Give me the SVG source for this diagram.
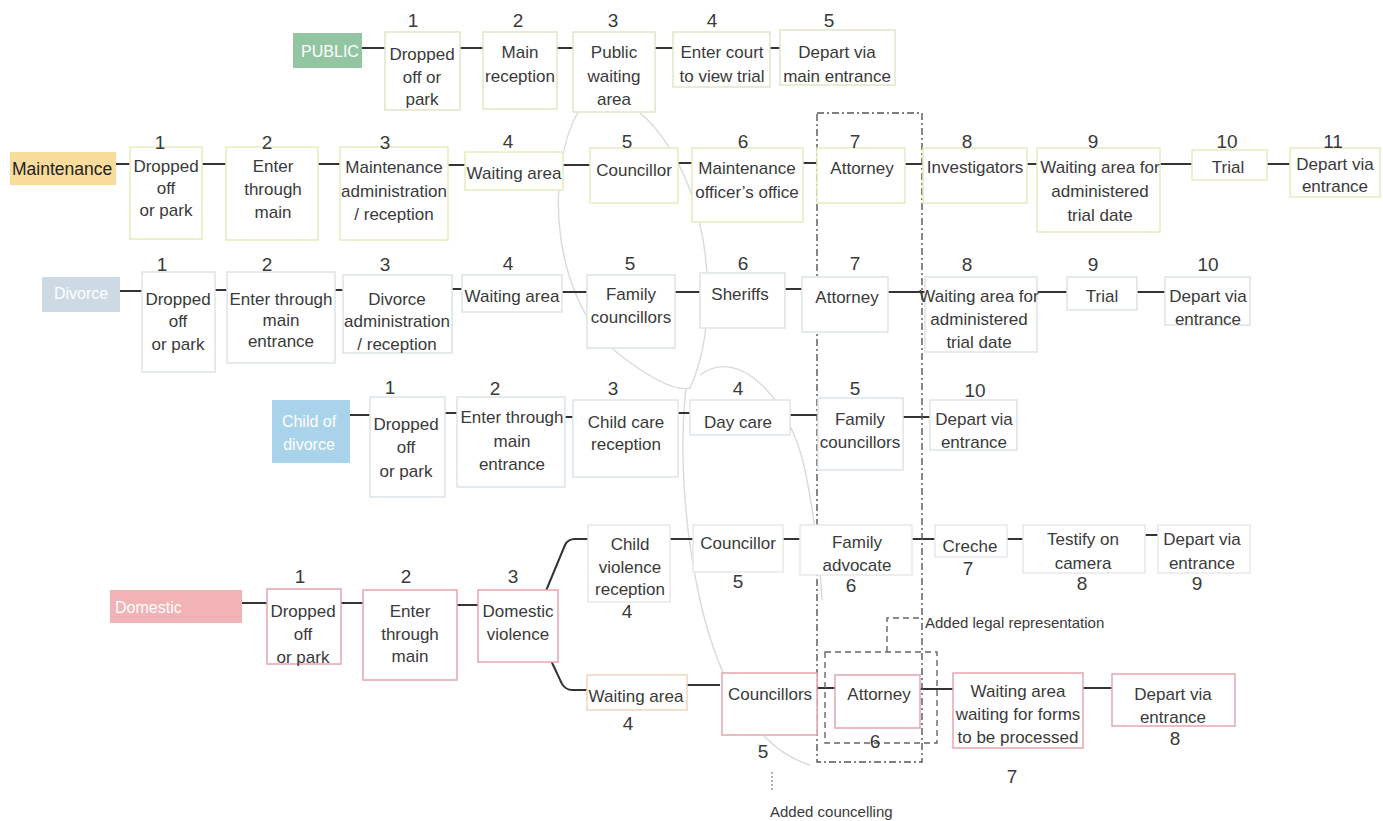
<svg xmlns="http://www.w3.org/2000/svg" width="1383" height="821" viewBox="0 0 1383 821">
<style>
text{font-family:"Liberation Sans",Arial,sans-serif;fill:#3a3a3a}
.t{font-size:17px;text-anchor:middle}
.n{font-size:19px;text-anchor:middle}
.lbl{font-size:16px;fill:#ffffff}
.box{fill:#ffffff;stroke-width:1.5}
.pub{stroke:#dfe6c6}
.mnt{stroke:#e6ebbf}
.div{stroke:#dde3e7}
.chd{stroke:#dce4e9}
.dom{stroke:#e4a6ae}
.dup{stroke:#e8e8e8}
.dpe{stroke:#f2d5bc}
.c{stroke:#333;stroke-width:2;fill:none}
.dash{stroke:#555;stroke-width:1.4;fill:none;stroke-dasharray:7 3 2 3}
.dash2{stroke:#666;stroke-width:1.4;fill:none;stroke-dasharray:6 4}
.loop{stroke:#dadada;stroke-width:1.4;fill:none}
</style>
<rect width="1383" height="821" fill="#ffffff"/>

<g id="loops">
<path class="loop" d="M 578 112 C 545 170, 550 300, 620 355 C 650 378, 675 392, 690 388 C 712 340, 715 260, 690 190 C 675 150, 655 125, 640 113"/>
<path class="loop" d="M 686 388 C 680 440, 682 520, 700 600 C 720 690, 760 750, 810 765"/>
<path class="loop" d="M 700 375 C 740 345, 790 400, 805 470 C 815 520, 820 560, 822 600"/>
</g>

<g id="connectors">
<path class="c" d="M360 48H387M458 48H488M548 48H580M650 48H680M762 48H785"/>
<path class="c" d="M115 164H135M200 164H230M318 164H347M445 165H470M562 165H593M675 163H700M787 163H823M905 164H930M1020 164H1047M1157 164H1192M1260 164H1290"/>
<path class="c" d="M113 291H143M207 290H233M330 290H363M452 289H470M555 292H587M675 292H707M768 289H805M888 292H925M1035 292H1068M1135 292H1167"/>
<path class="c" d="M343 415H370M440 413H470M557 417H588M665 413H697M783 415H817M903 417H932"/>
<path class="c" d="M235 603H267M337 603H368M452 605H483"/>
<path class="c" d="M543 598L565 545Q568 539 575 539H590"/>
<path class="c" d="M547 652L562 684Q566 690 572 690H590"/>
<path class="c" d="M670 539H700M773 539H803M912 539H943M993 539H1027M1137 535H1165"/>
<path class="c" d="M687 685H720M810 688H843M920 689H957M1080 688H1112"/>
</g>

<g id="group-legal">
<rect class="dash" x="817" y="113" width="105" height="649"/>
<rect class="dash2" x="825" y="652" width="112" height="91"/>
<path class="dash2" d="M887 652V618H922"/>
<text x="925" y="628" style="font-size:15px">Added legal representation</text>
</g>
<g id="counselling-note">
<path d="M772 772V792" stroke="#999" stroke-width="1.5" stroke-dasharray="2 2" fill="none"/>
<text x="770" y="817" style="font-size:15px">Added councelling</text>
</g>

<!-- Row 1 PUBLIC -->
<g id="label-public"><rect x="293" y="33" width="69" height="35" fill="#92c6a2"/><text class="lbl" x="330" y="57" text-anchor="middle">PUBLIC</text></g>
<g id="p1"><rect class="box pub" x="385" y="32" width="75" height="78"/><text class="n" x="413" y="27">1</text><text class="t" x="422" y="60">Dropped<tspan x="422" y="83">off or</tspan><tspan x="422" y="105">park</tspan></text></g>
<g id="p2"><rect class="box pub" x="483" y="32" width="74" height="77"/><text class="n" x="518" y="27">2</text><text class="t" x="520" y="58">Main<tspan x="520" y="82">reception</tspan></text></g>
<g id="p3"><rect class="box pub" x="573" y="32" width="82" height="80"/><text class="n" x="613" y="27">3</text><text class="t" x="614" y="58">Public<tspan x="614" y="82">waiting</tspan><tspan x="614" y="105">area</tspan></text></g>
<g id="p4"><rect class="box pub" x="673" y="32" width="97" height="55"/><text class="n" x="712" y="27">4</text><text class="t" x="722" y="58">Enter court<tspan x="722" y="82">to view trial</tspan></text></g>
<g id="p5"><rect class="box pub" x="780" y="30" width="115" height="55"/><text class="n" x="829" y="27">5</text><text class="t" x="837" y="58">Depart via<tspan x="837" y="82">main entrance</tspan></text></g>

<!-- Row 2 Maintenance -->
<g id="label-maintenance"><rect x="10" y="152" width="106" height="33" fill="#f8dc9c"/><text x="12" y="175" style="font-size:17.5px;fill:#222">Maintenance</text></g>
<g id="m1"><rect class="box mnt" x="130" y="147" width="72" height="92"/><text class="n" x="160" y="149">1</text><text class="t" x="166" y="172">Dropped<tspan x="166" y="194">off</tspan><tspan x="166" y="216">or park</tspan></text></g>
<g id="m2"><rect class="box mnt" x="226" y="147" width="92" height="93"/><text class="n" x="267" y="149">2</text><text class="t" x="273" y="172">Enter<tspan x="273" y="195">through</tspan><tspan x="273" y="218">main</tspan></text></g>
<g id="m3"><rect class="box mnt" x="340" y="147" width="108" height="93"/><text class="n" x="385" y="149">3</text><text class="t" x="394" y="173">Maintenance<tspan x="394" y="197">administration</tspan><tspan x="394" y="220">/ reception</tspan></text></g>
<g id="m4"><rect class="box mnt" x="465" y="152" width="98" height="38"/><text class="n" x="508" y="148">4</text><text class="t" x="514" y="179">Waiting area</text></g>
<g id="m5"><rect class="box mnt" x="590" y="148" width="88" height="55"/><text class="n" x="627" y="148">5</text><text class="t" x="634" y="176">Councillor</text></g>
<g id="m6"><rect class="box mnt" x="692" y="148" width="111" height="74"/><text class="n" x="743" y="148">6</text><text class="t" x="747" y="174">Maintenance<tspan x="747" y="198">officer’s office</tspan></text></g>
<g id="m7"><rect class="box mnt" x="817" y="148" width="88" height="55"/><text class="n" x="855" y="148">7</text><text class="t" x="862" y="174">Attorney</text></g>
<g id="m8"><rect class="box mnt" x="923" y="148" width="104" height="55"/><text class="n" x="967" y="148">8</text><text class="t" x="975" y="173">Investigators</text></g>
<g id="m9"><rect class="box mnt" x="1037" y="148" width="123" height="84"/><text class="n" x="1093" y="148">9</text><text class="t" x="1100" y="173">Waiting area for<tspan x="1100" y="197">administered</tspan><tspan x="1100" y="221">trial date</tspan></text></g>
<g id="m10"><rect class="box mnt" x="1192" y="150" width="75" height="30"/><text class="n" x="1227" y="148">10</text><text class="t" x="1228" y="173">Trial</text></g>
<g id="m11"><rect class="box mnt" x="1290" y="148" width="90" height="49"/><text class="n" x="1333" y="148">11</text><text class="t" x="1335" y="170">Depart via<tspan x="1335" y="192">entrance</tspan></text></g>

<!-- Row 3 Divorce -->
<g id="label-divorce"><rect x="42" y="277" width="78" height="35" fill="#cddae4"/><text class="lbl" x="81" y="299" text-anchor="middle">Divorce</text></g>
<g id="d1"><rect class="box div" x="142" y="272" width="73" height="100"/><text class="n" x="162" y="271">1</text><text class="t" x="178" y="305">Dropped<tspan x="178" y="327">off</tspan><tspan x="178" y="350">or park</tspan></text></g>
<g id="d2"><rect class="box div" x="227" y="272" width="108" height="91"/><text class="n" x="267" y="271">2</text><text class="t" x="281" y="305">Enter through<tspan x="281" y="326">main</tspan><tspan x="281" y="347">entrance</tspan></text></g>
<g id="d3"><rect class="box div" x="343" y="275" width="109" height="78"/><text class="n" x="385" y="271">3</text><text class="t" x="397" y="305">Divorce<tspan x="397" y="327">administration</tspan><tspan x="397" y="350">/ reception</tspan></text></g>
<g id="d4"><rect class="box div" x="462" y="275" width="100" height="37"/><text class="n" x="508" y="270">4</text><text class="t" x="512" y="302">Waiting area</text></g>
<g id="d5"><rect class="box div" x="587" y="275" width="88" height="73"/><text class="n" x="630" y="270">5</text><text class="t" x="631" y="300">Family<tspan x="631" y="323">councillors</tspan></text></g>
<g id="d6"><rect class="box div" x="700" y="273" width="85" height="55"/><text class="n" x="743" y="270">6</text><text class="t" x="740" y="300">Sheriffs</text></g>
<g id="d7"><rect class="box div" x="802" y="277" width="86" height="55"/><text class="n" x="855" y="270">7</text><text class="t" x="847" y="303">Attorney</text></g>
<g id="d8"><rect class="box div" x="925" y="277" width="112" height="75"/><text class="n" x="967" y="271">8</text><text class="t" x="979" y="302">Waiting area for<tspan x="979" y="325">administered</tspan><tspan x="979" y="348">trial date</tspan></text></g>
<g id="d9"><rect class="box div" x="1067" y="277" width="70" height="33"/><text class="n" x="1093" y="271">9</text><text class="t" x="1102" y="302">Trial</text></g>
<g id="d10"><rect class="box div" x="1165" y="277" width="85" height="48"/><text class="n" x="1208" y="271">10</text><text class="t" x="1208" y="302">Depart via<tspan x="1208" y="325">entrance</tspan></text></g>

<!-- Row 4 Child of divorce -->
<g id="label-child"><rect x="272" y="400" width="78" height="63" fill="#a9d3ea"/><text class="lbl" x="309" y="427" text-anchor="middle">Child of<tspan x="309" y="450">divorce</tspan></text></g>
<g id="c1"><rect class="box chd" x="370" y="397" width="75" height="100"/><text class="n" x="390" y="394">1</text><text class="t" x="406" y="430">Dropped<tspan x="406" y="453">off</tspan><tspan x="406" y="477">or park</tspan></text></g>
<g id="c2"><rect class="box chd" x="457" y="397" width="108" height="90"/><text class="n" x="495" y="395">2</text><text class="t" x="512" y="423">Enter through<tspan x="512" y="447">main</tspan><tspan x="512" y="470">entrance</tspan></text></g>
<g id="c3"><rect class="box chd" x="573" y="400" width="105" height="77"/><text class="n" x="613" y="395">3</text><text class="t" x="626" y="428">Child care<tspan x="626" y="450">reception</tspan></text></g>
<g id="c4"><rect class="box chd" x="690" y="400" width="100" height="35"/><text class="n" x="738" y="395">4</text><text class="t" x="738" y="428">Day care</text></g>
<g id="c5"><rect class="box chd" x="818" y="398" width="85" height="72"/><text class="n" x="855" y="395">5</text><text class="t" x="860" y="425">Family<tspan x="860" y="448">councillors</tspan></text></g>
<g id="c10"><rect class="box chd" x="930" y="400" width="87" height="50"/><text class="n" x="975" y="397">10</text><text class="t" x="974" y="425">Depart via<tspan x="974" y="448">entrance</tspan></text></g>

<!-- Row 5 Domestic -->
<g id="label-domestic"><rect x="110" y="590" width="132" height="33" fill="#f1b3b5"/><text class="lbl" x="115" y="613">Domestic</text></g>
<g id="dm1"><rect class="box dom" x="267" y="589" width="74" height="75"/><text class="n" x="300" y="583">1</text><text class="t" x="303" y="617">Dropped<tspan x="303" y="640">off</tspan><tspan x="303" y="663">or park</tspan></text></g>
<g id="dm2"><rect class="box dom" x="363" y="590" width="94" height="90"/><text class="n" x="406" y="583">2</text><text class="t" x="410" y="617">Enter<tspan x="410" y="640">through</tspan><tspan x="410" y="662">main</tspan></text></g>
<g id="dm3"><rect class="box dom" x="478" y="590" width="80" height="72"/><text class="n" x="513" y="583">3</text><text class="t" x="518" y="617">Domestic<tspan x="518" y="640">violence</tspan></text></g>
<g id="du4"><rect class="box dup" x="588" y="525" width="82" height="77"/><text class="t" x="630" y="550">Child<tspan x="630" y="573">violence</tspan><tspan x="630" y="595">reception</tspan></text><text class="n" x="627" y="618">4</text></g>
<g id="du5"><rect class="box dup" x="693" y="525" width="90" height="47"/><text class="t" x="738" y="549">Councillor</text><text class="n" x="738" y="588">5</text></g>
<g id="du6"><rect class="box dup" x="800" y="525" width="112" height="50"/><text class="t" x="857" y="548">Family<tspan x="857" y="571">advocate</tspan></text><text class="n" x="851" y="592">6</text></g>
<g id="du7"><rect class="box dup" x="935" y="525" width="72" height="32"/><text class="t" x="970" y="552">Creche</text><text class="n" x="968" y="575">7</text></g>
<g id="du8"><rect class="box dup" x="1023" y="525" width="122" height="48"/><text class="t" x="1083" y="545">Testify on<tspan x="1083" y="569">camera</tspan></text><text class="n" x="1082" y="590">8</text></g>
<g id="du9"><rect class="box dup" x="1158" y="525" width="92" height="48"/><text class="t" x="1202" y="545">Depart via<tspan x="1202" y="569">entrance</tspan></text><text class="n" x="1197" y="590">9</text></g>
<g id="dl4"><rect class="box dpe" x="587" y="675" width="100" height="35"/><text class="t" x="636" y="702">Waiting area</text><text class="n" x="628" y="730">4</text></g>
<g id="dl5"><rect class="box dom" x="722" y="673" width="95" height="62"/><text class="t" x="770" y="700">Councillors</text><text class="n" x="763" y="758">5</text></g>
<g id="dl6"><rect class="box dom" x="835" y="675" width="85" height="53"/><text class="t" x="879" y="700">Attorney</text><text class="n" x="875" y="748">6</text></g>
<g id="dl7"><rect class="box dom" x="953" y="673" width="130" height="75"/><text class="t" x="1018" y="697">Waiting area<tspan x="1018" y="720">waiting for forms</tspan><tspan x="1018" y="743">to be processed</tspan></text><text class="n" x="1012" y="783">7</text></g>
<g id="dl8"><rect class="box dom" x="1112" y="674" width="123" height="52"/><text class="t" x="1173" y="700">Depart via<tspan x="1173" y="723">entrance</tspan></text><text class="n" x="1175" y="745">8</text></g>
</svg>
